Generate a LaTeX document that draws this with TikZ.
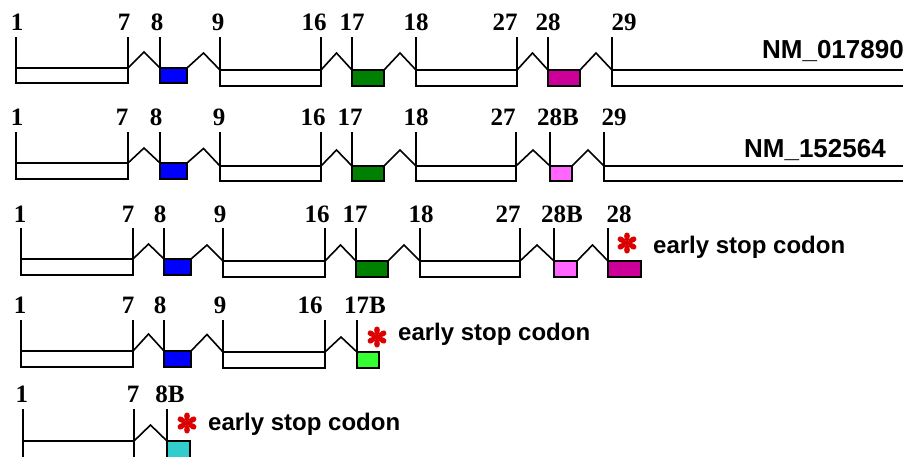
\documentclass[tikz,border=0pt]{standalone}
\usepackage{fontspec}
\setmainfont{Liberation Serif}
\newfontfamily\labelsans{Liberation Sans}
\usetikzlibrary{calc}

\definecolor{exblue}{RGB}{0,0,255}
\definecolor{exgreen}{RGB}{0,128,0}
\definecolor{exmagenta}{RGB}{204,0,153}
\definecolor{expink}{RGB}{255,102,255}
\definecolor{exlime}{RGB}{51,255,51}
\definecolor{excyan}{RGB}{51,204,204}
\definecolor{stopred}{RGB}{220,0,0}

\tikzset{
  exon/.style={draw, line width=1.6pt, rectangle, inner sep=0pt, outer sep=0pt,
               anchor=north west},
  link/.style={line width=1.6pt},
  num/.style={font=\fontsize{25}{25}\selectfont\bfseries, anchor=base, inner sep=0pt},
  acc/.style={font=\labelsans\fontsize{26}{26}\selectfont\bfseries, anchor=base east, inner sep=0pt},
  note/.style={font=\labelsans\fontsize{24}{24}\selectfont\bfseries, anchor=base west, inner sep=0pt},
  stopmark/.pic={
    \fill[stopred] (0,0) circle (2.4);
    \foreach \a in {0,60,...,300}{
      \fill[stopred, rotate=\a] (0,0) .. controls (-4,-5) and (-3.6,-10.5) .. (0,-10.5)
        .. controls (3.6,-10.5) and (4,-5) .. (0,0) -- cycle;
    }
  }
}

% exon box: name, left, top, right, bottom, fill
\newcommand\exon[6]{\node[exon, fill=#6, minimum width={(#4-#2)*1pt},
  minimum height={(#5-#3)*1pt}] (#1) at (#2,#3) {};}
% intron between two exons, with the peak raised by #3
\newcommand\intron[3]{\draw[link] (#1.north east)
  -- ($(#1.north east)!.5!(#2.north west)+(0,-#3)$) -- (#2.north west);}
% vertical boundary tick from an exon corner up to a row level
\newcommand\bordertick[2]{\draw[link] (#1) -- (#1 |- #2);}

\begin{document}
\begin{tikzpicture}[x=1pt, y=-1pt]
\useasboundingbox (0,0) rectangle (903,456);

% ---------- NM_017890 ----------
\coordinate (r1t) at (0,37);
\exon{a1}{16}{68}{128}{83}{white}
\exon{a8}{160}{68}{187}{83}{exblue}
\exon{a9}{220}{70}{321}{86}{white}
\exon{a17}{352}{70}{384}{86}{exgreen}
\exon{a18}{416}{70}{517}{86}{white}
\exon{a28}{548}{70}{580}{86}{exmagenta}
\exon{a29}{612}{70}{912}{86}{white}
\foreach \p in {a1.north west,a1.north east,a8.north west,a9.north west,a9.north east,
  a17.north west,a18.north west,a18.north east,a28.north west,a29.north west}{\bordertick{\p}{r1t}}
\intron{a1}{a8}{16}
\intron{a8}{a9}{16}
\intron{a9}{a17}{17}
\intron{a17}{a18}{17}
\intron{a18}{a28}{17}
\intron{a28}{a29}{17}
\node[num] (la1) at (17,30) {1};
\node[num] (la7) at (124,30) {7};
\node[num] (la8) at (157,30) {8};
\node[num] (la9) at (218,30) {9};
\node[num] (la16) at (314,30) {16};
\node[num] (la17) at (352,30) {17};
\node[num] (la18) at (416,30) {18};
\node[num] (la27) at (505,30) {27};
\node[num] (la28) at (548,30) {28};
\node[num] (la29) at (624,30) {29};
\node[acc] (nm1) at (904,58) {NM\_017890};

% ---------- NM_152564 ----------
\coordinate (r2t) at (0,132);
\exon{b1}{16}{163}{128}{179}{white}
\exon{b8}{160}{163}{187}{179}{exblue}
\exon{b9}{220}{166}{321}{181}{white}
\exon{b17}{352}{166}{384}{181}{exgreen}
\exon{b18}{416}{166}{516}{181}{white}
\exon{b28}{550}{166}{572}{181}{expink}
\exon{b29}{604}{166}{912}{181}{white}
\foreach \p in {b1.north west,b1.north east,b8.north west,b9.north west,b9.north east,
  b17.north west,b18.north west,b18.north east,b28.north west,b29.north west}{\bordertick{\p}{r2t}}
\intron{b1}{b8}{15}
\intron{b8}{b9}{16}
\intron{b9}{b17}{16}
\intron{b17}{b18}{16}
\intron{b18}{b28}{16}
\intron{b28}{b29}{16}
\node[num] (lb1) at (17,125) {1};
\node[num] (lb7) at (122,125) {7};
\node[num] (lb8) at (156,125) {8};
\node[num] (lb9) at (219,125) {9};
\node[num] (lb16) at (313,125) {16};
\node[num] (lb17) at (350,125) {17};
\node[num] (lb18) at (416,125) {18};
\node[num] (lb27) at (503,125) {27};
\node[num] (lb28) at (558,125) {28B};
\node[num] (lb29) at (614,125) {29};
\node[acc] (nm2) at (886,157) {NM\_152564};

% ---------- variant ending in exon 28 ----------
\coordinate (r3t) at (0,228);
\exon{c1}{21}{259}{133}{275}{white}
\exon{c8}{164}{259}{191}{275}{exblue}
\exon{c9}{223}{261}{325}{277}{white}
\exon{c17}{356}{261}{388}{277}{exgreen}
\exon{c18}{420}{261}{520}{277}{white}
\exon{c28b}{554}{261}{577}{277}{expink}
\exon{c28}{608}{261}{641}{277}{exmagenta}
\foreach \p in {c1.north west,c1.north east,c8.north west,c9.north west,c9.north east,
  c17.north west,c18.north west,c18.north east,c28b.north west,c28.north west}{\bordertick{\p}{r3t}}
\intron{c1}{c8}{15}
\intron{c8}{c9}{15}
\intron{c9}{c17}{16}
\intron{c17}{c18}{16}
\intron{c18}{c28b}{16}
\intron{c28b}{c28}{16}
\node[num] (lc1) at (20,222) {1};
\node[num] (lc7) at (128,222) {7};
\node[num] (lc8) at (160,222) {8};
\node[num] (lc9) at (220,222) {9};
\node[num] (lc16) at (317,222) {16};
\node[num] (lc17) at (355,222) {17};
\node[num] (lc18) at (421,222) {18};
\node[num] (lc27) at (508,222) {27};
\node[num] (lc28b) at (562,222) {28B};
\node[num] (lc28) at (619,222) {28};
\pic at (627,243) {stopmark};
\node[note] (sc) at (653,253) {early stop codon};

% ---------- variant ending in exon 17B ----------
\coordinate (r4t) at (0,320);
\exon{d1}{21}{351}{133}{367}{white}
\exon{d8}{164}{351}{191}{367}{exblue}
\exon{d9}{223}{352}{325}{368}{white}
\exon{d17}{357}{352}{379}{368}{exlime}
\foreach \p in {d1.north west,d1.north east,d8.north west,d9.north west,d9.north east,
  d17.north west}{\bordertick{\p}{r4t}}
\intron{d1}{d8}{17}
\intron{d8}{d9}{17}
\intron{d9}{d17}{15}
\node[num] (ld1) at (20,313) {1};
\node[num] (ld7) at (128,313) {7};
\node[num] (ld8) at (160,313) {8};
\node[num] (ld9) at (220,313) {9};
\node[num] (ld16) at (310,313) {16};
\node[num] (ld17) at (365,313) {17B};
\pic at (377,337) {stopmark};
\node[note] (sd) at (398,340) {early stop codon};

% ---------- variant ending in exon 8B ----------
\coordinate (r5t) at (0,409);
\exon{f1}{23}{441}{134}{464}{white}
\exon{f8}{167}{441}{190}{464}{excyan}
\foreach \p in {f1.north west,f1.north east,f8.north west}{\bordertick{\p}{r5t}}
\intron{f1}{f8}{16}
\node[num] (lf1) at (22,402) {1};
\node[num] (lf7) at (133,402) {7};
\node[num] (lf8) at (170,402) {8B};
\pic at (187,423) {stopmark};
\node[note] (sf) at (208,430) {early stop codon};
\end{tikzpicture}
\end{document}
